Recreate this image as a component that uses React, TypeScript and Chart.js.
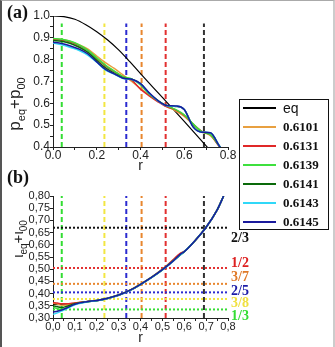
import React, { useEffect, useRef } from "react";
import { Chart, registerables } from "chart.js";
Chart.register(...registerables);

const W = 335;
const H = 347;

// ---------- Data ----------
const seriesNames = ["eq", "0.6101", "0.6131", "0.6139", "0.6141", "0.6143", "0.6145"];
const seriesColors = ["#000000", "#e8a040", "#e02828", "#3ee03e", "#0a6a0a", "#30d8f8", "#1a1a9c"];

// panel (a): p_eq + p_00 vs r
const rEqA = [0, 0.05, 0.1, 0.15, 0.2, 0.25, 0.3, 0.35, 0.4, 0.5, 0.6, 0.7, 0.75];
const pEq = [1.0, 0.997, 0.985, 0.96, 0.928, 0.89, 0.845, 0.792, 0.736, 0.627, 0.517, 0.405, 0.35];

const rA = [0, 0.04, 0.08, 0.12, 0.16, 0.2, 0.24, 0.28, 0.32, 0.36, 0.4, 0.44, 0.48, 0.52, 0.56, 0.6, 0.64, 0.68, 0.72, 0.76, 0.78];
const p6101 = [0.895, 0.892, 0.883, 0.868, 0.848, 0.816, 0.786, 0.76, 0.73, 0.7, 0.668, 0.638, 0.61, 0.586, 0.566, 0.54, 0.503, 0.47, 0.452, 0.405, 0.38];
const p6131 = [0.893, 0.89, 0.881, 0.865, 0.842, 0.806, 0.772, 0.746, 0.722, 0.706, 0.665, 0.634, 0.607, 0.584, 0.57, 0.545, 0.506, 0.472, 0.455, 0.402, 0.378];
const p6139 = [0.897, 0.893, 0.884, 0.867, 0.843, 0.808, 0.775, 0.748, 0.722, 0.712, 0.684, 0.642, 0.612, 0.588, 0.572, 0.547, 0.506, 0.47, 0.456, 0.404, 0.38];
const p6141 = [0.888, 0.884, 0.874, 0.857, 0.833, 0.797, 0.762, 0.738, 0.716, 0.71, 0.69, 0.646, 0.612, 0.59, 0.586, 0.572, 0.495, 0.468, 0.464, 0.406, 0.38];
const p6143 = [0.876, 0.868, 0.856, 0.842, 0.82, 0.788, 0.752, 0.734, 0.714, 0.709, 0.689, 0.646, 0.611, 0.589, 0.587, 0.572, 0.493, 0.468, 0.465, 0.406, 0.38];
const p6145 = [0.88, 0.874, 0.863, 0.848, 0.826, 0.79, 0.755, 0.735, 0.715, 0.71, 0.69, 0.648, 0.612, 0.59, 0.588, 0.572, 0.492, 0.468, 0.465, 0.405, 0.38];

// panel (b): iota_eq + iota_00 vs r
const rB = [0, 0.02, 0.04, 0.06, 0.1, 0.15, 0.2, 0.25, 0.3, 0.35, 0.4, 0.45, 0.5, 0.55, 0.58, 0.6, 0.65, 0.7, 0.75, 0.78];
const iEq = [0.355, 0.355, 0.356, 0.357, 0.361, 0.367, 0.372, 0.381, 0.394, 0.413, 0.438, 0.466, 0.498, 0.534, 0.556, 0.572, 0.618, 0.672, 0.742, 0.8];
const i6101 = [0.36, 0.357, 0.352, 0.353, 0.36, 0.366, 0.372, 0.381, 0.395, 0.414, 0.44, 0.468, 0.5, 0.538, 0.562, 0.572, 0.618, 0.672, 0.742, 0.8];
const i6131 = [0.363, 0.361, 0.358, 0.358, 0.362, 0.367, 0.371, 0.38, 0.393, 0.412, 0.437, 0.466, 0.499, 0.54, 0.564, 0.573, 0.618, 0.672, 0.742, 0.8];
const i6139 = [0.345, 0.338, 0.335, 0.34, 0.357, 0.366, 0.372, 0.381, 0.394, 0.413, 0.438, 0.466, 0.498, 0.535, 0.558, 0.572, 0.618, 0.672, 0.742, 0.8];
const i6141 = [0.35, 0.346, 0.343, 0.347, 0.358, 0.366, 0.371, 0.38, 0.393, 0.412, 0.437, 0.465, 0.497, 0.534, 0.558, 0.572, 0.618, 0.672, 0.742, 0.8];
const i6143 = [0.315, 0.321, 0.329, 0.337, 0.354, 0.365, 0.371, 0.38, 0.393, 0.412, 0.437, 0.465, 0.497, 0.533, 0.557, 0.572, 0.618, 0.672, 0.742, 0.8];
const i6145 = [0.324, 0.328, 0.333, 0.34, 0.356, 0.366, 0.372, 0.381, 0.394, 0.413, 0.438, 0.466, 0.498, 0.534, 0.56, 0.572, 0.618, 0.672, 0.742, 0.8];

// rational surfaces
const resR = [0.04, 0.235, 0.335, 0.405, 0.515, 0.69];
const resIota = [0.335, 0.378, 0.405, 0.44, 0.505, 0.67];
const resLabels = ["1/3", "3/8", "2/5", "3/7", "1/2", "2/3"];
const resLabelAnchor = [0.305, 0.36, 0.411, 0.467, 0.524, 0.627];
const resColors = ["#33dd33", "#f2e642", "#2b2bd0", "#e8862e", "#e23030", "#333333"];
const resLabelColors = ["#33dd33", "#f0e040", "#1c1ca8", "#e07a28", "#dd2020", "#111111"];

// axis extents / ticks
const xRange = [0, 0.8];
const yRangeA = [0.4, 1.0];
const yRangeB = [0.3, 0.8];
const dashTopA = 0.966;

// ---------- helpers ----------
const SANS = '"Liberation Sans", Arial, sans-serif';
const SERIF = '"Liberation Serif", "Times New Roman", serif';

const isMult = (v: number, step: number) => Math.abs(v / step - Math.round(v / step)) < 1e-6;
const pts = (xs: number[], ys: number[]) => xs.map((x, i) => ({ x, y: ys[i] }));

function curveSets(rs: number[][], vals: number[][]) {
  return vals.map((v, i) => ({
    label: seriesNames[i],
    data: pts(rs[i], v),
    borderColor: seriesColors[i],
    borderWidth: i === 0 ? 1.2 : 1.5,
    pointRadius: 0,
    cubicInterpolationMode: "monotone" as const,
    fill: false,
    order: 7 - i,
  }));
}

function vLines(yLo: number, yHi: number) {
  return resR.map((r, i) => ({
    label: "v" + i,
    data: [{ x: r, y: yLo }, { x: r, y: yHi }],
    borderColor: resColors[i],
    borderWidth: 2,
    borderDash: [5, 3],
    pointRadius: 0,
    fill: false,
    order: 20,
  }));
}

function hLines() {
  return resIota.map((v, i) => ({
    label: "h" + i,
    data: [{ x: xRange[0], y: v }, { x: xRange[1], y: v }],
    borderColor: resLabelColors[i] === "#111111" ? "#111111" : resColors[i],
    borderWidth: 2,
    borderDash: [2, 2],
    pointRadius: 0,
    fill: false,
    order: 19,
  }));
}

type Part = { t: string; sub: boolean };
function drawRotTitle(ctx: CanvasRenderingContext2D, cx: number, cy: number, parts: Part[], main: string, sub: string, shift: number) {
  ctx.save();
  ctx.fillStyle = "#222";
  ctx.textBaseline = "alphabetic";
  ctx.textAlign = "left";
  const widths = parts.map((p) => {
    ctx.font = p.sub ? sub : main;
    return ctx.measureText(p.t).width;
  });
  const total = widths.reduce((a, b) => a + b, 0);
  ctx.translate(cx, cy);
  ctx.rotate(-Math.PI / 2);
  let x = -total / 2;
  parts.forEach((p, i) => {
    ctx.font = p.sub ? sub : main;
    ctx.fillText(p.t, x, p.sub ? shift : 0);
    x += widths[i];
  });
  ctx.restore();
}

function axisCommon(fontSize: number) {
  return {
    grid: { drawOnChartArea: false, tickLength: 3, color: "#222" },
    border: { color: "#222", width: 1 },
    ticksBase: { autoSkip: false, maxRotation: 0, color: "#222", font: { family: SANS, size: fontSize } },
  };
}

export default function App() {
  const refA = useRef<HTMLCanvasElement>(null);
  const refB = useRef<HTMLCanvasElement>(null);

  useEffect(() => {
    document.body.style.margin = "0";
    const ca = axisCommon(12);
    const cb = axisCommon(11);

    const plugA = {
      id: "txtA",
      afterDraw(chart: any) {
        const ctx = chart.ctx as CanvasRenderingContext2D;
        ctx.save();
        ctx.font = "bold 18px " + SERIF;
        ctx.fillStyle = "#111";
        ctx.textBaseline = "middle";
        ctx.textAlign = "left";
        ctx.fillText("(a)", 7, 13);
        ctx.restore();
        drawRotTitle(
          ctx, 20, 104,
          [{ t: "p", sub: false }, { t: "eq", sub: true }, { t: "+p", sub: false }, { t: "00", sub: true }],
          "17px " + SANS, "11px " + SANS, 5
        );
      },
    };

    const plugB = {
      id: "txtB",
      afterDraw(chart: any) {
        const ctx = chart.ctx as CanvasRenderingContext2D;
        ctx.save();
        ctx.font = "bold 18px " + SERIF;
        ctx.fillStyle = "#111";
        ctx.textBaseline = "middle";
        ctx.textAlign = "left";
        ctx.fillText("(b)", 7, 178);
        const ys = chart.scales.y;
        const left = chart.chartArea.right + 3;
        ctx.font = "bold 14px " + SERIF;
        resLabels.forEach((t, i) => {
          ctx.fillStyle = resLabelColors[i];
          ctx.fillText(t, left, ys.getPixelForValue(resLabelAnchor[i]));
        });
        ctx.restore();
        drawRotTitle(
          ctx, 23, 239,
          [{ t: "ι", sub: false }, { t: "eq", sub: true }, { t: "+ι", sub: false }, { t: "00", sub: true }],
          "15px " + SANS, "10px " + SANS, 4
        );
      },
    };

    const a = new Chart(refA.current!, {
      type: "line",
      data: {
        datasets: [
          ...vLines(yRangeA[0], dashTopA),
          ...curveSets([rEqA, rA, rA, rA, rA, rA, rA], [pEq, p6101, p6131, p6139, p6141, p6143, p6145]),
        ] as any,
      },
      options: {
        animation: false,
        responsive: false,
        devicePixelRatio: 1,
        events: [],
        layout: { padding: { left: 0, top: 16, right: 107, bottom: 172 } },
        plugins: { legend: { display: false }, tooltip: { enabled: false } },
        scales: {
          x: {
            type: "linear",
            min: xRange[0],
            max: xRange[1],
            afterFit: (s: any) => { s.height = 28; },
            grid: ca.grid,
            border: ca.border,
            ticks: { ...ca.ticksBase, stepSize: 0.1, padding: -2, callback: (v: any) => (isMult(v, 0.2) ? Number(v).toFixed(1) : "") },
            title: { display: true, text: "r", padding: 0, color: "#222", font: { family: SANS, size: 14 } },
          },
          y: {
            type: "linear",
            min: yRangeA[0],
            max: yRangeA[1],
            afterFit: (s: any) => { s.width = 53; },
            grid: ca.grid,
            border: ca.border,
            ticks: { ...ca.ticksBase, stepSize: 0.05, padding: 0, callback: (v: any) => (isMult(v, 0.1) ? Number(v).toFixed(1) : "") },
          },
        },
      } as any,
      plugins: [plugA],
    });

    const b = new Chart(refB.current!, {
      type: "line",
      data: {
        datasets: [
          ...hLines(),
          ...vLines(yRangeB[0], yRangeB[1]),
          ...curveSets([rB, rB, rB, rB, rB, rB, rB], [iEq, i6101, i6131, i6139, i6141, i6143, i6145]),
        ] as any,
      },
      options: {
        animation: false,
        responsive: false,
        devicePixelRatio: 1,
        events: [],
        layout: { padding: { left: 0, top: 196, right: 107, bottom: 0 } },
        plugins: { legend: { display: false }, tooltip: { enabled: false } },
        scales: {
          x: {
            type: "linear",
            min: xRange[0],
            max: xRange[1],
            afterFit: (s: any) => { s.height = 29; },
            grid: cb.grid,
            border: cb.border,
            ticks: { ...cb.ticksBase, stepSize: 0.05, padding: -1, callback: (v: any) => (isMult(v, 0.1) ? Number(v).toFixed(1).replace(".", ",") : "") },
            title: { display: true, text: "r", padding: 0, color: "#222", font: { family: SANS, size: 14 } },
          },
          y: {
            type: "linear",
            min: yRangeB[0],
            max: yRangeB[1],
            afterFit: (s: any) => { s.width = 53; },
            grid: cb.grid,
            border: cb.border,
            ticks: { ...cb.ticksBase, stepSize: 0.05, padding: 0, callback: (v: any) => Number(v).toFixed(2).replace(".", ",") },
          },
        },
      } as any,
      plugins: [plugB],
    });

    return () => {
      a.destroy();
      b.destroy();
    };
  }, []);

  const rowY = [108, 127, 146, 164.5, 183.5, 202.5, 221.5];

  return (
    <div style={{ position: "fixed", left: 0, top: 0, width: W, height: H, background: "#fff", overflow: "hidden" }}>
      <canvas ref={refA} width={W} height={H} style={{ position: "absolute", left: 0, top: 0 }} />
      <canvas ref={refB} width={W} height={H} style={{ position: "absolute", left: 0, top: 0 }} />
      <div
        style={{
          position: "absolute",
          left: 239,
          top: 99,
          width: 90,
          height: 131,
          boxSizing: "border-box",
          border: "1px solid #111",
          background: "#fff",
        }}
      />
      {seriesNames.map((n, i) => (
        <React.Fragment key={n}>
          <div
            style={{
              position: "absolute",
              left: 243,
              top: rowY[i] - 1,
              width: 33,
              height: 2,
              background: seriesColors[i],
            }}
          />
          <div
            style={{
              position: "absolute",
              left: 283,
              top: rowY[i] - 9,
              height: 18,
              lineHeight: "18px",
              whiteSpace: "nowrap",
              color: "#111",
              fontFamily: i === 0 ? SANS : SERIF,
              fontWeight: i === 0 ? "normal" : "bold",
              fontSize: i === 0 ? 14 : 13,
            }}
          >
            {n}
          </div>
        </React.Fragment>
      ))}
      <div
        style={{
          position: "absolute",
          left: 0,
          top: 0,
          width: W,
          height: H,
          boxSizing: "border-box",
          borderTop: "1px solid #aaa",
          borderLeft: "2px solid #555",
          borderRight: "2px solid #ccc",
          pointerEvents: "none",
        }}
      />
    </div>
  );
}
